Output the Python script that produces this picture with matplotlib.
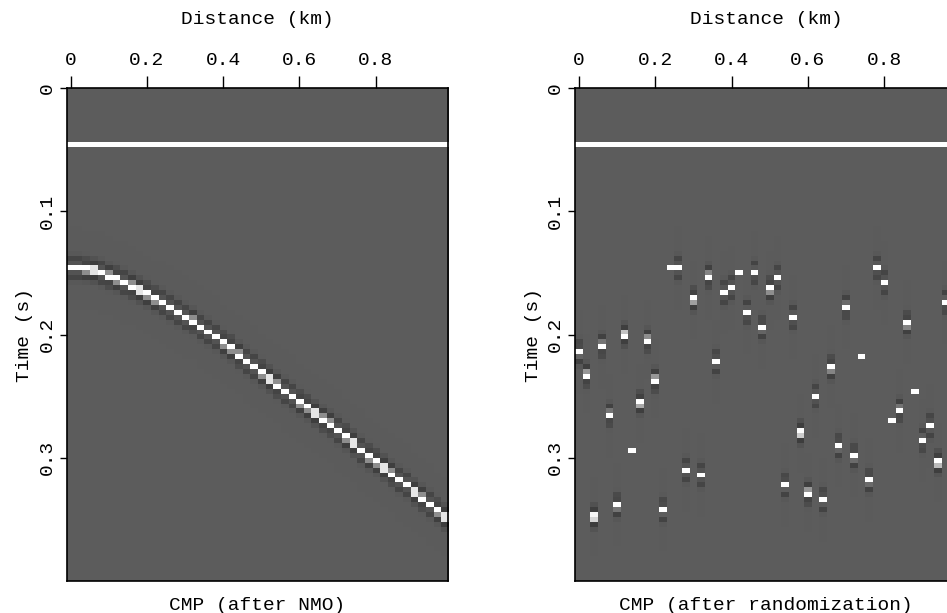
import numpy as np
import matplotlib
matplotlib.use('Agg')
import matplotlib.pyplot as plt
from matplotlib.colors import LinearSegmentedColormap

# sampling of both gathers
dt = 0.004
nt = 100
dx = 0.02
nx = 50

# flat event (same on every trace, both panels)
flat_time = 0.046

# event time per trace, CMP after NMO (s)
nmo_times = [0.146, 0.146, 0.147, 0.148, 0.150, 0.153, 0.155, 0.158, 0.161, 0.164,
             0.167, 0.171, 0.174, 0.178, 0.182, 0.186, 0.189, 0.194, 0.198, 0.202,
             0.207, 0.211, 0.217, 0.222, 0.226, 0.231, 0.236, 0.241, 0.246, 0.250,
             0.255, 0.259, 0.264, 0.269, 0.273, 0.278, 0.283, 0.288, 0.294, 0.299,
             0.303, 0.308, 0.313, 0.318, 0.322, 0.328, 0.333, 0.338, 0.343, 0.348]

# event time per trace after randomization (s), last trace is off the page
rand_times = [0.2145, 0.2329, 0.3478, 0.2093, 0.2653, 0.3387, 0.2004, 0.2951, 0.2553, 0.2050,
              0.2369, 0.3424, 0.1463, 0.1460, 0.3100, 0.1712, 0.3140, 0.1531, 0.2223, 0.1660,
              0.1620, 0.1505, 0.1817, 0.1498, 0.1945, 0.1630, 0.1540, 0.3224, 0.1858, 0.2797,
              0.3289, 0.2499, 0.3343, 0.2269, 0.2905, 0.1774, 0.2986, 0.2187, 0.3186, 0.1458,
              0.1580, 0.2707, 0.2613, 0.1909, 0.2464, 0.2856, 0.2742, 0.3035, 0.1736]
# traces where the event shows as a single spike
rand_spikes = [7, 12, 21, 37, 41, 44]

xticks = [0, 0.2, 0.4, 0.6, 0.8]
xticklabels = ['0', '0.2', '0.4', '0.6', '0.8']
yticks = [0, 0.1, 0.2, 0.3]
yticklabels = ['0', '0.1', '0.2', '0.3']


def ricker(t, f=62.5):
    a = (np.pi * f * t) ** 2
    return (1 - 2 * a) * np.exp(-a)


def make_gather(times, spikes=()):
    d = np.zeros((nt, nx))
    d[int(flat_time / dt), :] = 1.0
    tc = (np.arange(nt) + 0.5) * dt
    for k, t0 in enumerate(times):
        if k in spikes:
            d[int(t0 / dt), k] = 1.0
        else:
            d[:, k] += ricker(tc - t0)
    return d


cmap = LinearSegmentedColormap.from_list(
    'seis', [(0.0, (0.1, 0.1, 0.1)), (0.5, (0.36, 0.36, 0.36)),
             (0.85, (1, 1, 1)), (1.0, (1, 1, 1))])

plt.rcParams['font.family'] = 'Liberation Mono'
fs = 14

fig = plt.figure(figsize=(9.47, 6.13), dpi=100)
ax1 = fig.add_axes([66.7 / 947, 1 - 581 / 613, 381.6 / 947, 493 / 613])
ax2 = fig.add_axes([575.2 / 947, 1 - 581 / 613, 381.6 / 947, 493 / 613])

panels = [(ax1, make_gather(nmo_times), 'CMP (after NMO)'),
          (ax2, make_gather(rand_times, rand_spikes), 'CMP (after randomization)')]

for ax, data, title in panels:
    ax.imshow(data, cmap=cmap, vmin=-1, vmax=1, aspect='auto',
              interpolation='nearest',
              extent=[-dx / 2, (nx - 0.5) * dx, nt * dt, 0])
    ax.xaxis.tick_top()
    ax.xaxis.set_label_position('top')
    ax.set_xticks(xticks)
    ax.set_xticklabels(xticklabels)
    ax.set_yticks(yticks)
    ax.set_yticklabels(yticklabels, rotation=90, va='center')
    ax.tick_params(axis='x', length=8.5, width=1, labelsize=fs, pad=5)
    ax.tick_params(axis='y', length=5, width=1, labelsize=fs, pad=3)
    ax.set_xlabel('Distance (km)', fontsize=fs, labelpad=20)
    ax.set_ylabel('Time (s)', fontsize=fs, labelpad=4)
    for s in ax.spines.values():
        s.set_linewidth(1.2)
    ax.text(0.5, -0.049, title, transform=ax.transAxes, ha='center',
            va='center', fontsize=fs)

fig.savefig('out.png', dpi=100)
